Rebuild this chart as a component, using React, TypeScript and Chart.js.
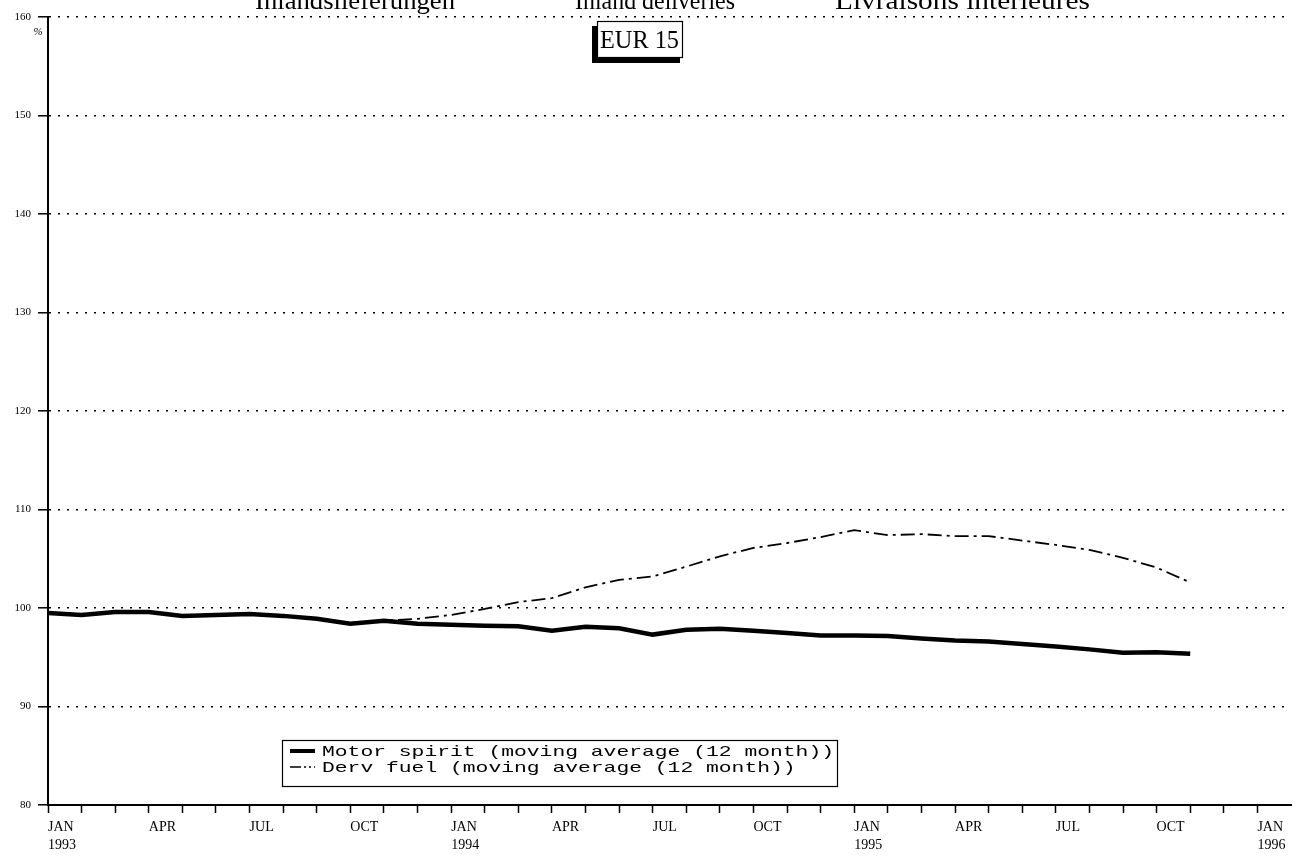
import React, { useEffect, useRef } from "react";
import { Chart, registerables } from "chart.js";

Chart.register(...registerables);

// ---- data ----
const monthNames = ["JAN", "FEB", "MAR", "APR", "MAY", "JUN", "JUL", "AUG", "SEP", "OCT", "NOV", "DEC"];
const years = ["1993", "1994", "1995", "1996"];
const labelledMonths = ["JAN", "APR", "JUL", "OCT"];

// Motor spirit, 12-month moving average (%), Jan 1993 .. Nov 1995
const motorSpirit = [
  99.5, 99.3, 99.6, 99.6, 99.2, 99.3, 99.4, 99.2, 98.9, 98.4, 98.7, 98.4,
  98.3, 98.2, 98.15, 97.7, 98.1, 97.95, 97.3, 97.8, 97.9, 97.7, 97.45, 97.2,
  97.2, 97.15, 96.9, 96.7, 96.6, 96.35, 96.1, 95.8, 95.45, 95.5, 95.35,
];
// Derv fuel, 12-month moving average (%), Jan 1993 .. Nov 1995
const dervFuel = [
  99.5, 99.3, 99.6, 99.6, 99.2, 99.3, 99.4, 99.2, 98.9, 98.5, 98.7, 98.9,
  99.3, 99.9, 100.6, 101.0, 102.1, 102.85, 103.2, 104.2, 105.25, 106.1, 106.6, 107.2,
  107.9, 107.4, 107.5, 107.3, 107.3, 106.85, 106.4, 105.9, 105.1, 104.1, 102.6,
];

const seriesNames = [
  "Motor spirit (moving average (12 month))",
  "Derv fuel (moving average (12 month))",
];
const headerTexts = ["Inlandslieferungen", "Inland deliveries", "Livraisons intérieures"];
const regionLabel = "EUR 15";
const unitLabel = "%";
const yMin = 80;
const yMax = 160;
const yStep = 10;

// categories Jan 1993 .. Feb 1996 (axis end)
const categories: string[] = [];
years.forEach((y) => monthNames.forEach((m) => categories.push(m + " " + y)));
const axisCategories = categories.slice(0, 38);
const lastTickIndex = 36;

const FONT_SERIF = '"Liberation Serif", "Times New Roman", serif';
const FONT_MONO = '"Liberation Mono", "Courier New", monospace';

function fitText(ctx: CanvasRenderingContext2D, text: string, x: number, y: number, width: number) {
  const w = ctx.measureText(text).width;
  ctx.save();
  ctx.translate(x, y);
  ctx.scale(width / w, 1);
  ctx.fillText(text, 0, 0);
  ctx.restore();
}

const decorPlugin = {
  id: "decor",
  afterDraw(chart: any) {
    const ctx: CanvasRenderingContext2D = chart.ctx;
    ctx.save();
    ctx.fillStyle = "#000";
    ctx.strokeStyle = "#000";

    // header (cut off at top)
    ctx.font = "25px " + FONT_SERIF;
    ctx.textAlign = "left";
    ctx.textBaseline = "alphabetic";
    const hx = [255, 575, 835];
    const hw = [200, 160, 255];
    headerTexts.forEach((t, i) => fitText(ctx, t, hx[i], 9, hw[i]));

    // EUR 15 box with shadow
    ctx.fillRect(592, 26, 88, 37);
    ctx.fillStyle = "#fff";
    ctx.fillRect(597, 21, 86, 37);
    ctx.fillStyle = "#000";
    ctx.lineWidth = 1.2;
    ctx.strokeRect(597.5, 21.5, 85, 36);
    ctx.font = "26px " + FONT_SERIF;
    ctx.textAlign = "left";
    ctx.textBaseline = "middle";
    fitText(ctx, regionLabel, 600, 41, 79);

    // % unit
    ctx.font = "italic 11px " + FONT_SERIF;
    ctx.textAlign = "center";
    ctx.fillText(unitLabel, 38, 32);

    // legend box
    const lx = 282, ly = 740, lw = 555, lh = 46;
    ctx.fillStyle = "#fff";
    ctx.fillRect(lx, ly, lw, lh);
    ctx.fillStyle = "#000";
    ctx.lineWidth = 1.2;
    ctx.strokeRect(lx + 0.5, ly + 0.5, lw, lh);
    const ds = chart.data.datasets;
    const rows = [751, 767];
    ctx.font = "15px " + FONT_MONO;
    ctx.textAlign = "left";
    ctx.textBaseline = "middle";
    rows.forEach((ry, i) => {
      ctx.save();
      ctx.lineWidth = i === 0 ? 4 : 1.4;
      ctx.setLineDash(i === 0 ? [] : [11, 3, 2, 3, 2, 3]);
      ctx.beginPath();
      ctx.moveTo(290, ry);
      ctx.lineTo(315, ry);
      ctx.stroke();
      ctx.restore();
      const text = ds[i].label as string;
      fitText(ctx, text, 322, ry + 1, text.length * 12.8);
    });

    ctx.restore();
  },
};

export default function App() {
  const canvasRef = useRef<HTMLCanvasElement | null>(null);

  useEffect(() => {
    document.body.style.margin = "0";
    const canvas = canvasRef.current;
    if (!canvas) return;
    const chart = new Chart(canvas, {
      type: "line",
      data: {
        labels: axisCategories,
        datasets: [
          {
            label: seriesNames[0],
            data: motorSpirit,
            borderColor: "#000",
            borderWidth: 4.5,
            pointRadius: 0,
            tension: 0,
            fill: false,
          },
          {
            label: seriesNames[1],
            data: dervFuel,
            borderColor: "#000",
            borderWidth: 1.8,
            borderDash: [14, 5, 3, 5],
            pointRadius: 0,
            tension: 0,
            fill: false,
          },
        ],
      },
      options: {
        animation: false,
        responsive: false,
        maintainAspectRatio: false,
        events: [],
        layout: { padding: { top: 17, right: 10, left: 0, bottom: 0 } },
        plugins: {
          legend: { display: false },
          tooltip: { enabled: false },
          title: { display: false },
        },
        scales: {
          x: {
            type: "category",
            offset: false,
            afterFit: (scale: any) => {
              scale.height = 52;
            },
            grid: {
              drawOnChartArea: false,
              drawTicks: true,
              tickLength: 8,
              tickWidth: 1.5,
              tickColor: (c: any) => (c.index > lastTickIndex ? "rgba(0,0,0,0)" : "#000"),
            },
            border: { display: true, color: "#000", width: 2 },
            ticks: {
              autoSkip: false,
              maxRotation: 0,
              minRotation: 0,
              align: "start",
              padding: 6,
              color: "#000",
              font: { family: FONT_SERIF, size: 14, lineHeight: 1.25 },
              callback: (_v: any, index: number) => {
                if (index > lastTickIndex) return "";
                const [m, y] = axisCategories[index].split(" ");
                if (m === "JAN") return [m, y];
                if (labelledMonths.includes(m)) return m;
                return "";
              },
            },
          },
          y: {
            min: yMin,
            max: yMax,
            afterFit: (scale: any) => {
              scale.width = 48;
            },
            grid: {
              color: "#000",
              lineWidth: 1.6,
              drawTicks: true,
              tickLength: 10,
              tickWidth: 1.5,
              tickColor: "#000",
              tickBorderDash: [],
            },
            border: { display: true, color: "#000", width: 2, dash: [2, 7] },
            ticks: {
              stepSize: yStep,
              padding: 7,
              color: "#000",
              font: { family: FONT_SERIF, size: 11 },
            },
          },
        },
      },
      plugins: [decorPlugin],
    } as any);
    return () => chart.destroy();
  }, []);

  return (
    <div style={{ position: "absolute", left: 0, top: 0, width: 1301, height: 857, background: "#fff" }}>
      <canvas ref={canvasRef} width={1301} height={857} style={{ display: "block" }} />
    </div>
  );
}
